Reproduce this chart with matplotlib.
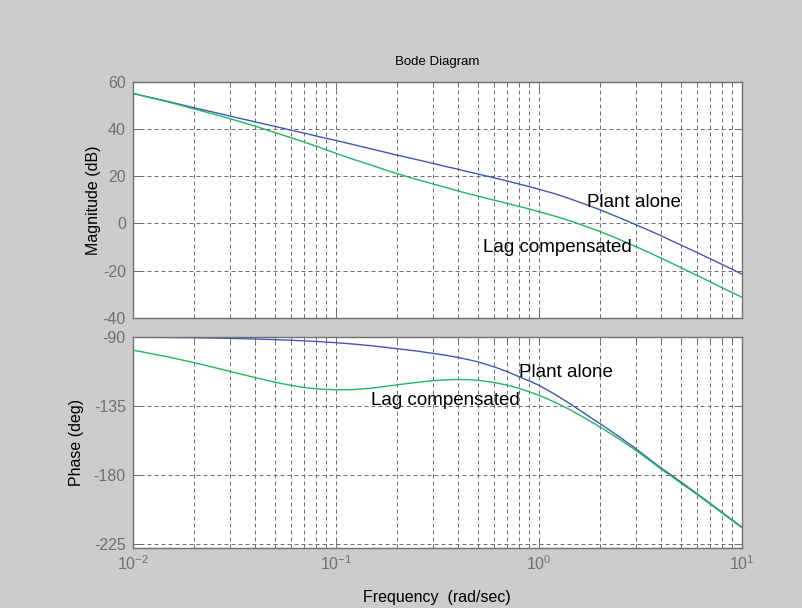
import matplotlib
matplotlib.use('Agg')
import matplotlib.pyplot as plt
from matplotlib.ticker import LogLocator, NullFormatter

plt.rcParams['font.family'] = ['Liberation Sans', 'DejaVu Sans']
plt.rcParams['mathtext.fontset'] = 'custom'
plt.rcParams['mathtext.rm'] = 'Liberation Sans'
plt.rcParams['mathtext.default'] = 'regular'
plt.rcParams['axes.unicode_minus'] = False

# data
freq = [0.01, 0.012, 0.015, 0.02, 0.025, 0.03, 0.04, 0.05, 0.06, 0.07, 0.08, 0.1,
        0.12, 0.15, 0.2, 0.25, 0.3, 0.35, 0.4, 0.45, 0.5, 0.6, 0.7, 0.8, 0.9, 1.0,
        1.2, 1.4, 1.6, 1.8, 2.0, 2.5, 3.0, 3.5, 4.0, 4.5, 5.0, 6.0, 7.0, 8.0, 9.0, 10.0]

mag_plant = [55.2, 53.6, 51.7, 49.1, 47.2, 45.6, 43.1, 41.2, 39.6, 38.3, 37.1, 35.2,
             33.6, 31.6, 29.0, 27.1, 25.5, 24.1, 23.0, 21.9, 21.0, 19.4, 18.0, 16.7, 15.6, 14.5,
             12.6, 10.7, 8.9, 7.3, 5.8, 2.4, -0.5, -3.0, -5.2, -7.3, -9.1, -12.3, -15.0, -17.4,
             -19.5, -21.5]
mag_lag = [55.2, 53.5, 51.5, 48.6, 46.4, 44.5, 41.3, 38.6, 36.4, 34.5, 32.8, 29.8,
           27.4, 24.7, 21.1, 18.7, 16.8, 15.2, 13.8, 12.6, 11.6, 9.9, 8.5, 7.2, 6.1, 5.0,
           3.1, 1.3, -0.4, -2.0, -3.4, -6.8, -9.8, -12.4, -14.7, -16.8, -18.7, -22.0, -24.8,
           -27.3, -29.4, -31.3]

phase_plant = [-90.4, -90.5, -90.6, -90.8, -91.0, -91.2, -91.6, -92.0, -92.4, -92.8, -93.2,
               -94.0, -94.8, -96.0, -97.9, -99.4, -100.9, -102.2, -103.6, -105.0, -106.4,
               -109.6, -112.8, -116.1, -118.9, -121.6, -127.5, -133.0, -138.0, -142.6,
               -146.5, -155.2, -162.7, -169.5, -175.3, -180.0, -184.3, -191.9, -198.4,
               -204.2, -209.2, -213.7]
phase_lag = [-98.8, -100.8, -103.3, -106.9, -110.0, -112.6, -116.6, -119.6, -121.7, -123.1,
             -124.0, -124.6, -124.5, -123.6, -121.4, -119.8, -118.7, -118.1, -117.9, -118.0,
             -118.4, -119.8, -121.6, -123.7, -125.9, -128.1, -132.6, -137.0, -141.2, -145.1,
             -148.7, -156.7, -163.8, -170.2, -176.0, -180.7, -185.0, -192.4, -198.9, -204.6,
             -209.6, -214.1]

mag_ticks = [-40, -20, 0, 20, 40, 60]
phase_ticks = [-225, -180, -135, -90]

blue = '#4257b5'
green = '#1fb85e'
gray = '#707070'

fig = plt.figure(figsize=(8.03, 6.08), dpi=100, facecolor='#cccccc')
ax1 = fig.add_axes([0.1653, 0.4775, 0.7584, 0.3876])
ax2 = fig.add_axes([0.1653, 0.0995, 0.7584, 0.3470], sharex=ax1)

ax1.plot(freq, mag_plant, color=blue, lw=1.0)
ax1.plot(freq, mag_lag, color=green, lw=1.0)
ax2.plot(freq, phase_plant, color=blue, lw=1.0)
ax2.plot(freq, phase_lag, color=green, lw=1.0)

for ax in (ax1, ax2):
    ax.set_xscale('log')
    ax.set_xlim(0.01, 10)
    ax.xaxis.set_major_locator(LogLocator(base=10))
    ax.xaxis.set_minor_locator(LogLocator(base=10, subs=range(2, 10)))
    ax.xaxis.set_minor_formatter(NullFormatter())
    ax.grid(True, which='major', color=gray, lw=0.72, ls=(0, (4, 3)))
    ax.grid(True, which='minor', axis='x', color=gray, lw=0.72, ls=(0, (4, 3)))
    ax.tick_params(which='both', direction='in', top=True, right=True, colors=gray,
                   labelsize=11.5, pad=5, width=0.72)
    ax.tick_params(which='major', length=6)
    ax.tick_params(which='minor', length=3)
    for s in ax.spines.values():
        s.set_color(gray)
        s.set_linewidth(1.0)
    ax.set_facecolor('white')

ax1.set_ylim(-40, 60)
ax1.set_yticks(mag_ticks)
ax1.tick_params(labelbottom=False)
ax2.set_ylim(-227, -90)
ax2.set_yticks(phase_ticks)

ax1.set_title('Bode Diagram', fontsize=9.5, pad=12)
ax1.set_ylabel('Magnitude (dB)', fontsize=11.5)
ax1.yaxis.set_label_coords(-0.052, 0.5)
ax2.set_ylabel('Phase (deg)', fontsize=11.5)
ax2.yaxis.set_label_coords(-0.080, 0.5)
ax2.set_xlabel('Frequency  (rad/sec)', fontsize=11.5)
ax2.xaxis.set_label_coords(0.5, -0.20)

ax1.text(1.72, 8.8, 'Plant alone', fontsize=13.5, va='center', ha='left')
ax1.text(0.533, -10.1, 'Lag compensated', fontsize=13.5, va='center', ha='left')
ax2.text(0.802, -113.3, 'Plant alone', fontsize=13.5, va='center', ha='left')
ax2.text(0.1486, -131.3, 'Lag compensated', fontsize=13.5, va='center', ha='left')

fig.savefig('out.png', dpi=100, facecolor=fig.get_facecolor())
